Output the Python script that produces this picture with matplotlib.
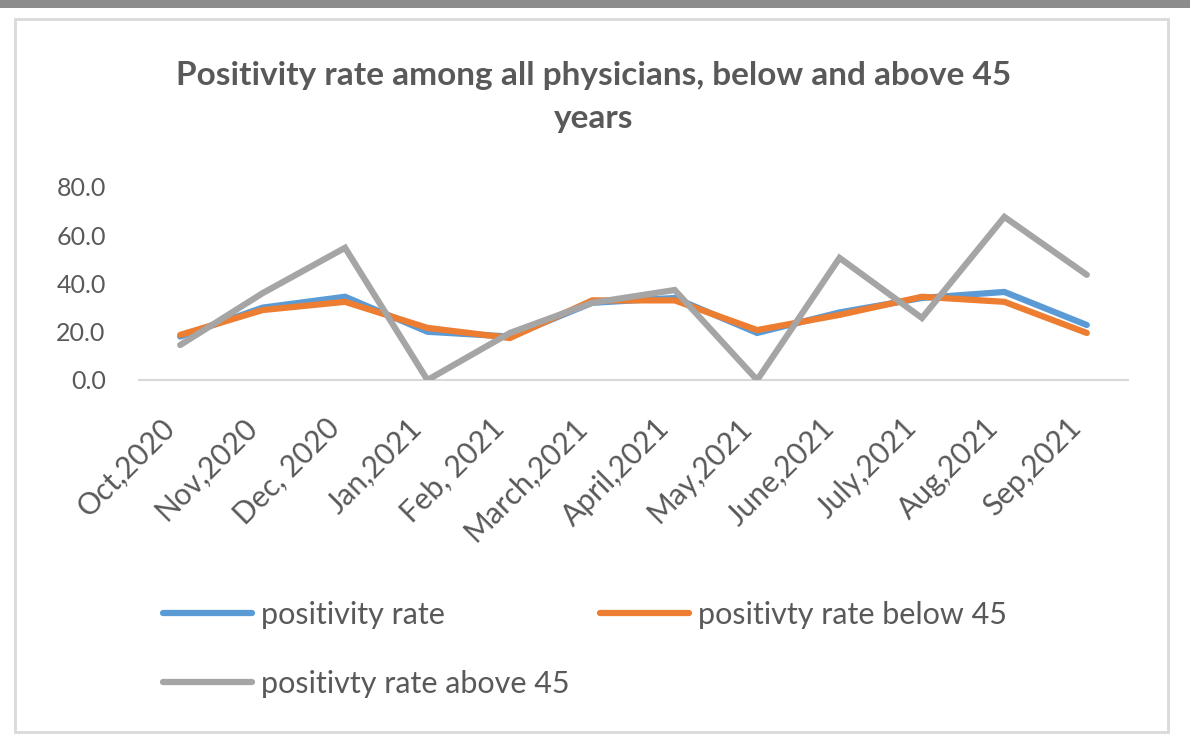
import matplotlib
matplotlib.use("Agg")
import matplotlib.pyplot as plt
from matplotlib.patches import Rectangle
from matplotlib.transforms import ScaledTranslation

months = ["Oct,2020", "Nov,2020", "Dec, 2020", "Jan,2021", "Feb, 2021", "March,2021",
          "April,2021", "May,2021", "June,2021", "July,2021", "Aug,2021", "Sep,2021"]
positivity_rate = [18.0, 30.0, 34.5, 20.0, 18.0, 32.0, 34.0, 19.5, 28.0, 34.0, 36.5, 22.8]
positivity_below45 = [18.7, 29.0, 32.4, 21.6, 17.4, 33.0, 33.0, 20.7, 27.0, 34.5, 32.4, 19.5]
positivity_above45 = [14.5, 36.0, 54.8, 0.0, 19.5, 32.0, 37.3, 0.0, 50.6, 25.7, 67.6, 43.6]
y_ticks = [0, 20, 40, 60, 80]

title = "Positivity rate among all physicians, below and above 45\nyears"
labels = ["positivity rate", "positivty rate below 45", "positivty rate above 45"]
colors = ["#5B9BD5", "#ED7D31", "#A5A5A5"]

plt.rcParams['font.family'] = ['Lato', 'DejaVu Sans']
txt = "#595959"

W, H = 1190, 741
fig = plt.figure(figsize=(W / 100, H / 100), dpi=100)
fig.patch.set_facecolor("white")

# top dark band and chart frame
fig.add_artist(Rectangle((0, 1 - 8 / H), 1, 8 / H, transform=fig.transFigure,
                         facecolor="#8c8c8c", edgecolor="none"))
fig.add_artist(Rectangle((15 / W, 1 - 732 / H), (1168 - 15) / W, (732 - 19) / H,
                         transform=fig.transFigure, facecolor="none",
                         edgecolor="#d9d9d9", linewidth=2))

ax = fig.add_axes([139 / W, 1 - 380 / H, (1128 - 139) / W, (380 - 187) / H])
x = list(range(len(months)))
series = [positivity_rate, positivity_below45, positivity_above45]
lines = []
for vals, lab, col in zip(series, labels, colors):
    ln, = ax.plot(x, vals, color=col, linewidth=4.5, label=lab, solid_capstyle="round",
                  solid_joinstyle="miter")
    lines.append(ln)

ax.set_xlim(-0.5, len(months) - 0.5)
ax.set_ylim(0, 80)
ax.set_yticks(y_ticks)
ax.set_yticklabels([f"{v:.1f}" for v in y_ticks])
ax.set_xticks(x)
ax.set_xticklabels(months, rotation=45, ha="right", va="top", rotation_mode="anchor",
                   fontsize=21.5)
ax.tick_params(axis="both", length=0, colors=txt)
ax.tick_params(axis="y", pad=24, labelsize=18)
ax.tick_params(axis="x", pad=24)
off = ScaledTranslation(-20 / 100, 0, fig.dpi_scale_trans)
for lbl in ax.get_xticklabels():
    lbl.set_transform(lbl.get_transform() + off)
for s in ["top", "right", "left"]:
    ax.spines[s].set_visible(False)
ax.spines["bottom"].set_color("#d9d9d9")
ax.spines["bottom"].set_linewidth(1.5)
ax.spines["bottom"].set_zorder(0)

fig.text(594 / W, 1 - 97 / H, title, ha="center", va="center", fontsize=24,
         fontweight="bold", color=txt, linespacing=1.55)

handles = [lines[0], lines[2], lines[1]]
leg = fig.legend(handles, [h.get_label() for h in handles], loc="upper left",
                 bbox_to_anchor=(163 / W, 1 - 601 / H), ncol=2,
                 frameon=False, fontsize=22, labelcolor=txt, handlelength=2.9,
                 handletextpad=0.3, columnspacing=1.0, labelspacing=1.33,
                 borderaxespad=0, borderpad=0)

fig.savefig("out.png", dpi=100, facecolor="white")
